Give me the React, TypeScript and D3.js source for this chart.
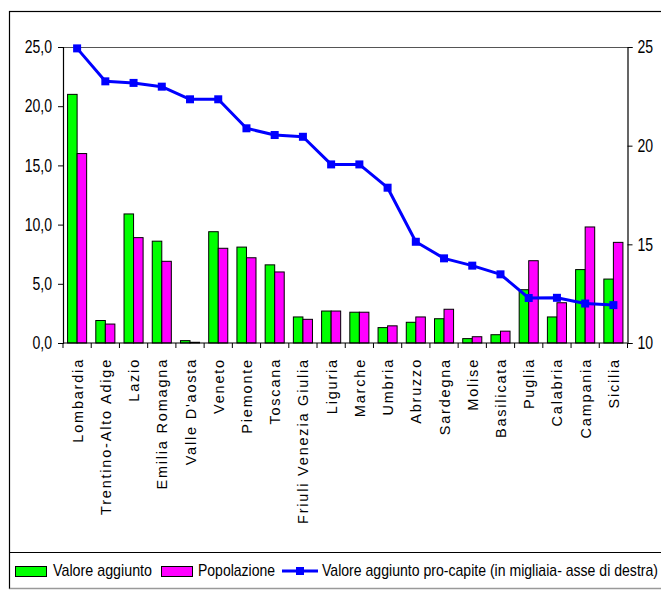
import React, { useRef, useEffect } from 'react';
import * as d3 from 'd3';

const regions = [
  'Lombardia', 'Trentino-Alto Adige', 'Lazio', 'Emilia Romagna', "Valle D'aosta",
  'Veneto', 'Piemonte', 'Toscana', 'Friuli Venezia Giulia', 'Liguria',
  'Marche', 'Umbria', 'Abruzzo', 'Sardegna', 'Molise',
  'Basilicata', 'Puglia', 'Calabria', 'Campania', 'Sicilia',
];
const valoreAggiunto = [21.0, 1.9, 10.9, 8.6, 0.2, 9.4, 8.1, 6.6, 2.2, 2.7, 2.6, 1.3, 1.75, 2.05, 0.37, 0.7, 4.5, 2.2, 6.2, 5.4];
const popolazione = [16.0, 1.6, 8.9, 6.9, 0.06, 8.0, 7.2, 6.0, 2.0, 2.7, 2.6, 1.45, 2.2, 2.85, 0.53, 1.0, 6.95, 3.4, 9.8, 8.5];
const proCapite = [24.93, 23.26, 23.18, 22.99, 22.35, 22.35, 20.88, 20.54, 20.45, 19.05, 19.05, 17.87, 15.13, 14.29, 13.92, 13.48, 12.28, 12.29, 12.0, 11.92];
const leftTicks = [0, 5, 10, 15, 20, 25];
const rightTicks = [10, 15, 20, 25];

const GREEN = '#00FF00';
const MAGENTA = '#FF00FF';
const BLUE = '#0000FF';
const FONT = '"Liberation Sans", Arial, sans-serif';

// simula un font "narrow" comprimendo il testo in orizzontale
function narrow(sel: d3.Selection<any, any, any, any>, ratio: number) {
  sel.each(function () {
    const node = this as SVGTextElement;
    const w = node.getComputedTextLength();
    node.setAttribute('textLength', String(w * ratio));
    node.setAttribute('lengthAdjust', 'spacingAndGlyphs');
  });
}

const App: React.FC = () => {
  const svgRef = useRef<SVGSVGElement | null>(null);

  useEffect(() => {
    if (!svgRef.current) return;
    const svg = d3.select(svgRef.current);
    svg.selectAll('*').remove();

    const left = 63;
    const right = 627.5;
    const top = 47;
    const bottom = 343;

    // cornice esterna e separatore legenda
    svg.append('rect')
      .attr('x', 9.5).attr('y', 11.5).attr('width', 670).attr('height', 577)
      .attr('fill', 'white').attr('stroke', '#000').attr('stroke-width', 1.2);
    svg.append('line')
      .attr('x1', 9.5).attr('x2', 661).attr('y1', 552.5).attr('y2', 552.5)
      .attr('stroke', '#000').attr('stroke-width', 1);
    svg.append('line')
      .attr('x1', 9.5).attr('x2', 661).attr('y1', 588.5).attr('y2', 588.5)
      .attr('stroke', '#999').attr('stroke-width', 1);

    const x = d3.scaleBand().domain(regions).range([left, right]).paddingInner(0).paddingOuter(0);
    const xSub = d3.scaleBand().domain(['va', 'pop']).range([0, x.bandwidth()]).paddingInner(0).paddingOuter(0.48);
    const y = d3.scaleLinear().domain([0, 25]).range([bottom, top]);
    const y2 = d3.scaleLinear().domain([10, 25]).range([bottom, top]);

    // bordo superiore area grafico
    svg.append('line')
      .attr('x1', left).attr('x2', right).attr('y1', top + 0.5).attr('y2', top + 0.5)
      .attr('stroke', '#555').attr('stroke-width', 1);

    // barre
    const groups = svg.append('g').selectAll('g')
      .data(regions).enter().append('g')
      .attr('transform', (d) => `translate(${x(d)},0)`);
    groups.append('rect')
      .attr('x', xSub('va')!)
      .attr('y', (_, i) => y(valoreAggiunto[i]))
      .attr('width', xSub.bandwidth())
      .attr('height', (_, i) => bottom - y(valoreAggiunto[i]))
      .attr('fill', GREEN).attr('stroke', '#000').attr('stroke-width', 1);
    groups.append('rect')
      .attr('x', xSub('pop')!)
      .attr('y', (_, i) => y(popolazione[i]))
      .attr('width', xSub.bandwidth())
      .attr('height', (_, i) => bottom - y(popolazione[i]))
      .attr('fill', MAGENTA).attr('stroke', '#000').attr('stroke-width', 1);

    // assi
    const yAxisG = svg.append('g').attr('transform', `translate(${left},0)`)
      .call(d3.axisLeft(y).tickValues(leftTicks).tickSize(5).tickPadding(6)
        .tickFormat((d) => d3.format('.1f')(d as number).replace('.', ',')));
    const y2AxisG = svg.append('g').attr('transform', `translate(${right},0)`)
      .call(d3.axisRight(y2).tickValues(rightTicks).tickSize(5).tickPadding(5));
    [yAxisG, y2AxisG].forEach((g) => {
      g.select('.domain').attr('stroke', '#000').attr('stroke-width', 1.2);
      const t = g.selectAll('text').attr('font-family', FONT).attr('font-size', 18).attr('fill', '#000');
      narrow(t, 0.78);
    });

    const xAxisG = svg.append('g').attr('transform', `translate(0,${bottom})`);
    xAxisG.append('line')
      .attr('x1', left).attr('x2', right).attr('y1', 0).attr('y2', 0)
      .attr('stroke', '#000').attr('stroke-width', 1.2);
    xAxisG.selectAll('.tk')
      .data(d3.range(regions.length + 1)).enter().append('line')
      .attr('x1', (i) => left + i * x.step()).attr('x2', (i) => left + i * x.step())
      .attr('y1', 0).attr('y2', 5)
      .attr('stroke', '#000').attr('stroke-width', 1);
    xAxisG.selectAll('.lbl')
      .data(regions).enter().append('text')
      .attr('transform', (d) => `translate(${x(d)! + x.bandwidth() / 2 + 5.5},15) rotate(-90)`)
      .attr('text-anchor', 'end')
      .attr('font-family', FONT).attr('font-size', 14.5).attr('letter-spacing', 1.8)
      .attr('fill', '#000')
      .text((d) => d);

    // linea pro-capite
    const line = d3.line<number>()
      .x((_, i) => x(regions[i])! + x.bandwidth() / 2)
      .y((d) => y2(d));
    svg.append('path').datum(proCapite)
      .attr('d', line).attr('fill', 'none')
      .attr('stroke', BLUE).attr('stroke-width', 3).attr('stroke-linejoin', 'round');
    svg.append('g').selectAll('rect')
      .data(proCapite).enter().append('rect')
      .attr('x', (_, i) => x(regions[i])! + x.bandwidth() / 2 - 4)
      .attr('y', (d) => y2(d) - 4)
      .attr('width', 8).attr('height', 8)
      .attr('fill', BLUE);

    // legenda
    const lg = svg.append('g').attr('font-family', FONT).attr('font-size', 17);
    lg.append('rect').attr('x', 15.5).attr('y', 566.5).attr('width', 31).attr('height', 10)
      .attr('fill', GREEN).attr('stroke', '#000');
    lg.append('text').attr('x', 53).attr('y', 576).attr('textLength', 99)
      .attr('lengthAdjust', 'spacingAndGlyphs').text('Valore aggiunto');
    lg.append('rect').attr('x', 161.5).attr('y', 566.5).attr('width', 31).attr('height', 10)
      .attr('fill', MAGENTA).attr('stroke', '#000');
    lg.append('text').attr('x', 198).attr('y', 576).attr('textLength', 77)
      .attr('lengthAdjust', 'spacingAndGlyphs').text('Popolazione');
    lg.append('line').attr('x1', 282).attr('x2', 318).attr('y1', 571).attr('y2', 571)
      .attr('stroke', BLUE).attr('stroke-width', 3);
    lg.append('rect').attr('x', 296).attr('y', 567).attr('width', 8).attr('height', 8).attr('fill', BLUE);
    lg.append('text').attr('x', 322).attr('y', 576).attr('textLength', 336)
      .attr('lengthAdjust', 'spacingAndGlyphs')
      .text('Valore aggiunto pro-capite (in migliaia- asse di destra)');
  }, []);

  return (
    <svg
      ref={svgRef}
      width={661}
      height={590}
      style={{ position: 'absolute', left: 0, top: 0, background: 'white' }}
    />
  );
};

export default App;
